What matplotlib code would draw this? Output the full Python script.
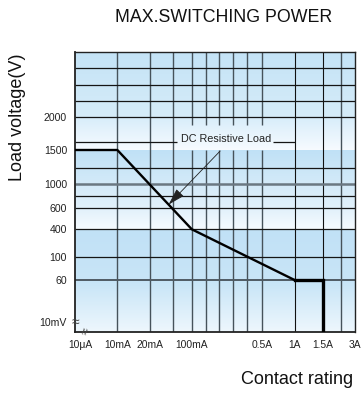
import numpy as np
import matplotlib
matplotlib.use("Agg")
import matplotlib.pyplot as plt
from matplotlib.colors import to_rgb
from matplotlib.transforms import ScaledTranslation

plt.rcParams["font.family"] = ["Liberation Sans", "DejaVu Sans"]

# ---- schematic axis layout (positions on a 0..280 board) ----
x_labels = ["10μA", "10mA", "20mA", "100mA", "0.5A", "1A", "1.5A", "3A"]
x_label_pos = [0, 42.6, 75.3, 117, 187, 219.6, 247.6, 280]
x_grid = [42.6, 75.3, 98.3, 117, 131, 144.6, 158.6, 172.6, 187, 219.6, 247.6, 266.3]

y_labels = ["2000", "1500", "1000", "600", "400", "100", "60", "10mV"]
y_label_pos = [214.7, 181.7, 147.7, 123.4, 102.4, 75, 51.7, 0]
y_grid = [263.4, 247.2, 231.0, 214.7, 163.4, 135.7, 123.4, 102.4, 75]

# ---- DC resistive load limit curve ----
curve_current = ["10μA", "10mA", "100mA", "1A", "1.5A", "1.5A"]
curve_voltage = ["1500", "1500", "400", "60", "60", "10mV"]

xpos = dict(zip(x_labels, x_label_pos))
ypos = dict(zip(y_labels, y_label_pos))
cx = np.array([xpos[c] for c in curve_current])
cy = np.array([ypos[v] for v in curve_voltage])

W, H, DPI = 362, 394, 100
fig = plt.figure(figsize=(W / DPI, H / DPI), dpi=DPI)
L, R, T, B = 74.7, 355.0, 51.7, 331.7
ax = fig.add_axes([L / W, (H - B) / H, (R - L) / W, (B - T) / H])
ax.set_xlim(0, 280)
ax.set_ylim(0, 280)

# ---- banded gradient background ----
stops = [
    (0.0, "#eef7fd"), (51.7, "#c6e4f7"),
    (51.7, "#c8e5f7"), (102.4, "#c1e1f6"),
    (102.4, "#f6fbff"), (123.4, "#e2f1fb"),
    (123.4, "#e2f1fb"), (181.7, "#c0e1f6"),
    (181.7, "#f7fbff"), (214.7, "#d8edfa"),
    (214.7, "#d6ecf9"), (280.0, "#c4e3f6"),
]
rows = np.linspace(0, 280, 1120)
img = np.zeros((rows.size, 1, 3))
for i in range(0, len(stops), 2):
    (y0, c0), (y1, c1) = stops[i], stops[i + 1]
    c0, c1 = np.array(to_rgb(c0)), np.array(to_rgb(c1))
    m = (rows >= y0) & (rows <= y1)
    t = ((rows[m] - y0) / (y1 - y0))[:, None]
    img[m, 0, :] = c0 * (1 - t) + c1 * t
ax.imshow(img, extent=[0, 280, 0, 280], origin="lower", aspect="auto",
          interpolation="nearest", zorder=0)

# label box region kept clear of grid lines
box_x0, box_x1, box_y0, box_y1 = 102, 198, 181.7, 206.7

# ---- grid ----
dark_cols = (xpos["1A"], xpos["1.5A"])
for x in x_grid:
    col = "#111111" if x in dark_cols else "#46525a"
    lw = 0.8 if x in dark_cols else 1.0
    if box_x0 < x < box_x1:
        ax.vlines(x, 0, box_y0, color=col, lw=lw, zorder=1)
        ax.vlines(x, box_y1, 280, color=col, lw=lw, zorder=1)
    else:
        ax.vlines(x, 0, 280, color=col, lw=lw, zorder=1)
for y in y_grid:
    ax.hlines(y, 0, 280, color="#151515", lw=0.9, zorder=1)
ax.hlines(ypos["1000"], 0, 280, color="#6b7882", lw=1.8, zorder=1)
ax.hlines(ypos["60"], 0, 280, color="#4f5b63", lw=1.4, zorder=1)
ax.hlines(190.0, 0, box_x0, color="#151515", lw=0.9, zorder=1)
ax.hlines(190.0, box_x1, xpos["1A"], color="#151515", lw=0.9, zorder=1)

for s in ax.spines.values():
    s.set_color("#222222")
    s.set_linewidth(1.0)
ax.spines["left"].set_linewidth(1.3)
ax.spines["bottom"].set_linewidth(1.3)

# ---- limit curve ----
ax.plot(cx[:4], cy[:4], color="black", lw=1.7, solid_joinstyle="miter", zorder=3)
ax.plot(cx[3:], cy[3:], color="black", lw=2.4, solid_joinstyle="miter", zorder=3)

# ---- annotation pointing at the sloped segment ----
tip_x = 93.8
seg_x, seg_y = cx[1:3], cy[1:3]
tip_y = seg_y[0] + (tip_x - seg_x[0]) * (seg_y[1] - seg_y[0]) / (seg_x[1] - seg_x[0])
ax.text(151.5, 192.6, "DC Resistive Load", ha="center", va="center",
        fontsize=7.8, color="#222222", zorder=4)
ax.annotate("", xy=(tip_x, tip_y), xytext=(145.3, 180.7),
            arrowprops=dict(arrowstyle="-|>,head_length=0.75,head_width=0.22",
                            mutation_scale=14, lw=0.6, color="#222222",
                            shrinkA=0, shrinkB=0), zorder=4)

# ---- ticks ----
ax.set_xticks(x_label_pos)
ax.set_xticklabels(x_labels, fontsize=7.4, color="#222222")
ax.set_yticks(y_label_pos)
ax.set_yticklabels(y_labels, fontsize=7.6, color="#222222")
ax.tick_params(length=0, pad=5.5)
ax.tick_params(axis="x", pad=6)
for lab in ax.get_xticklabels():
    if lab.get_text() == "10μA":
        lab.set_transform(lab.get_transform() + ScaledTranslation(6 / DPI, 0, fig.dpi_scale_trans))
for lab in ax.get_yticklabels():
    if lab.get_text() == "10mV":
        lab.set_transform(lab.get_transform() + ScaledTranslation(0, 9.5 / DPI, fig.dpi_scale_trans))

# axis-break marks
ax.text(0.5, 10, "≈", ha="center", va="center", fontsize=10, color="#444444",
        clip_on=False, zorder=5)
ax.text(12, 0, "≈", ha="center", va="center", fontsize=9, color="#444444",
        rotation=75, clip_on=False, zorder=5)

# ---- titles ----
fig.text(224 / W, 1 - 18 / H, "MAX.SWITCHING POWER", ha="center", va="center",
         fontsize=12.8, color="#111111")
fig.text(18 / W, 1 - 117 / H, "Load voltage(V)", ha="center", va="center",
         rotation=90, fontsize=13, color="#111111")
fig.text(297 / W, 1 - 380 / H, "Contact rating", ha="center", va="center",
         fontsize=13, color="#111111")

fig.savefig("out.png", dpi=DPI)
